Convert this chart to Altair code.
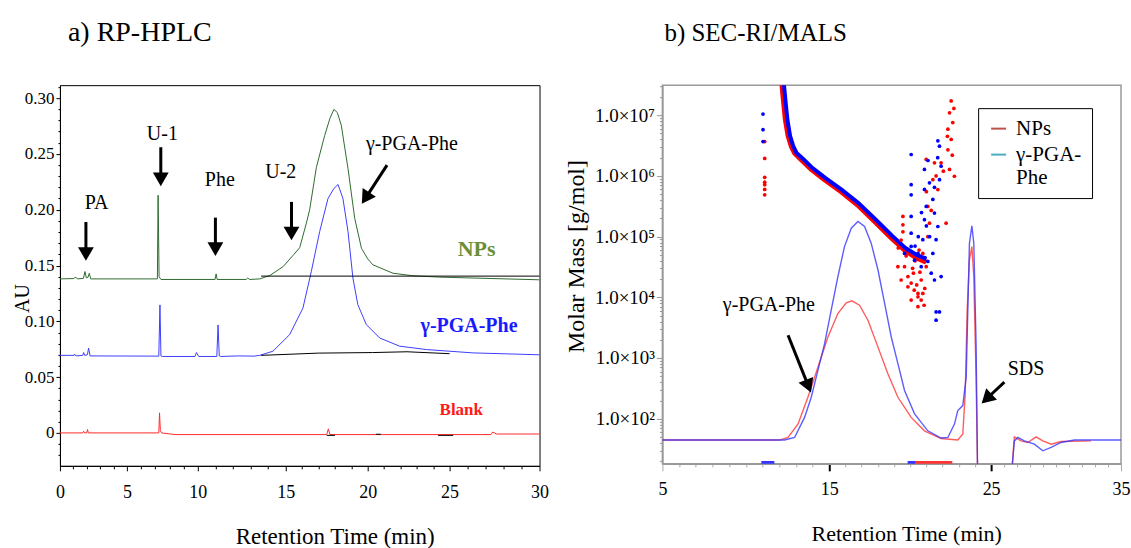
import altair as alt
import pandas as pd

SERIF = "Liberation Serif, Times New Roman, Times, serif"

# ---------------- a) RP-HPLC : chromatograms (min, AU) ----------------
nps_t = [0.0, 1.0, 1.19, 1.3, 1.75, 1.87, 1.97, 2.1, 2.19, 2.3,
         7.15, 7.2, 7.27, 7.4, 10.98, 11.04, 11.1, 12.75, 12.84, 12.95,
         13.52, 14.09, 14.85, 15.5, 15.85, 16.26, 16.46, 16.87, 17.38, 17.7,
         17.94, 18.15, 18.39, 18.8, 19.21, 19.62, 20.0, 20.32, 21.54, 22.76,
         24.39, 30.0]
nps_au = [0.138, 0.1383, 0.1395, 0.138, 0.1385, 0.1446, 0.139, 0.1395, 0.143, 0.138,
          0.138, 0.213, 0.140, 0.1375, 0.1375, 0.1425, 0.1375, 0.1375, 0.1388, 0.1375,
          0.138, 0.141, 0.149, 0.16, 0.166, 0.188, 0.2, 0.238, 0.2667, 0.282,
          0.2899, 0.287, 0.2756, 0.2369, 0.1922, 0.1655, 0.156, 0.1506, 0.1431, 0.1408,
          0.1396, 0.1372]

pga_t = [0.0, 1.06, 1.1, 1.2, 1.7, 1.77, 1.85, 2.05, 2.14, 2.25,
         7.25, 7.33, 7.4, 7.5, 9.8, 9.9, 10.05, 11.08, 11.15, 11.22,
         11.3, 12.3, 13.2, 13.52, 14.27, 15.24, 16.05, 16.56, 17.07, 17.58,
         17.94, 18.19, 18.49, 18.8, 19.1, 19.4, 19.92, 20.73, 21.95, 23.58,
         26.3, 30.0]
pga_au = [0.0695, 0.0695, 0.0705, 0.069, 0.0695, 0.072, 0.0695, 0.070, 0.076, 0.069,
          0.0688, 0.1147, 0.069, 0.0685, 0.0685, 0.072, 0.0685, 0.0685, 0.0967, 0.069,
          0.0685, 0.069, 0.0688, 0.0695, 0.0732, 0.0881, 0.1119, 0.1446, 0.1804, 0.2101,
          0.219, 0.2226, 0.2101, 0.1804, 0.1387, 0.1149, 0.097, 0.0851, 0.0777, 0.0747,
          0.0717, 0.0700]

blank_t = [0.0, 1.7, 1.77, 1.85, 2.0, 2.06, 2.12, 7.25, 7.3, 7.36,
           7.45, 8.4, 17.5, 17.6, 17.7, 27.3, 27.4, 27.6, 30.0]
blank_au = [0.0, 0.0, 0.0015, 0.0, 0.0, 0.003, 0.0, 0.0, 0.018, 0.002,
            0.0, -0.0015, -0.0015, 0.0036, -0.0015, -0.0015, 0.0008, -0.001, -0.001]

# integration baselines (black)
base_seg = ["a", "a", "b", "b", "b", "b", "b", "c", "c", "d", "d", "e", "e"]
base_t = [13.6, 30.0, 13.6, 17.0, 20.3, 22.4, 25.0, 17.5, 18.0, 20.5, 20.8, 24.3, 25.2]
base_au = [0.1405, 0.1405, 0.0695, 0.0715, 0.072, 0.0727, 0.071,
           -0.0022, -0.0022, -0.0012, -0.0012, -0.0022, -0.0022]

# peak annotations
ann_text = ["PA", "U-1", "Phe", "U-2", "γ-PGA-Phe"]
ann_t = [2.74, 7.5, 11.25, 14.72, 22.7]
ann_au = [0.2056, 0.268, 0.2265, 0.234, 0.259]

# arrows: tail -> head
arr_t1 = [1.94, 7.39, 11.0, 15.35, 21.18]
arr_au1 = [0.189, 0.256, 0.1929, 0.207, 0.240]
arr_t2 = [1.94, 7.39, 11.0, 15.35, 19.87]
arr_au2 = [0.1603, 0.2272, 0.1647, 0.1787, 0.2104]
arr_angle = [180, 180, 180, 180, 213]

# trace labels
lab_text = ["NPs", "γ-PGA-Phe", "Blank"]
lab_t = [26.5, 26.08, 25.65]
lab_au = [0.165, 0.0955, 0.0205]

# ---------------- b) SEC-RI/MALS (min, g/mol) ----------------
ri_np_t = [5.0, 12.02, 12.53, 13.13, 13.72, 14.32, 14.92, 15.53, 16.05, 16.4,
           16.87, 17.39, 18.01, 18.62, 19.24, 20.06, 20.88, 21.91, 22.94, 23.25,
           23.4, 23.52, 23.66, 23.81, 23.93, 24.07, 24.17, 26.54, 26.79, 27.3,
           27.82, 28.46, 28.98, 29.62, 30.38, 32.69]
ri_np_m = [44.4, 44.4, 49, 82, 225, 706, 2220, 5410, 8110, 8750,
           7430, 4200, 1510, 550, 225, 105, 63, 47, 44.4, 56,
           256, 6140, 41300, 68500, 21800, 483, 10, 10, 50, 43,
           40.5, 50, 43, 38, 42, 43]

ri_pga_t = [5.0, 12.32, 12.92, 13.52, 13.92, 14.32, 14.72, 15.12, 15.53, 15.94,
            16.36, 16.77, 17.18, 17.59, 18.01, 18.42, 18.83, 19.24, 19.65, 20.27,
            21.09, 21.91, 22.33, 22.74, 22.94, 23.25, 23.46, 23.56, 23.66, 23.81,
            23.93, 24.07, 24.17, 26.54, 26.79, 27.05, 27.56, 28.33, 28.98, 29.62,
            30.38, 31.41, 35.0]
ri_pga_m = [44.4, 44.4, 49, 105, 225, 624, 1727, 6140, 21800, 68500,
            138000, 178000, 147000, 78000, 28200, 7930, 2220, 805, 291, 120,
            63, 48, 49, 82, 136, 164, 483, 6140, 78000, 151000,
            78000, 1727, 10, 10, 43, 49, 43, 38, 29.5, 33.5,
            40.5, 44.4, 44.4]

# dense MALS band
band_np_t = [12.13, 12.25, 12.37, 12.53, 12.72, 12.92, 13.32, 13.92, 14.72, 15.74,
             16.77, 17.80, 18.83, 19.65, 20.37, 20.99]
band_np_m = [4.0e7, 1.8e7, 8.5e6, 4.6e6, 3.1e6, 2.4e6, 1.86e6, 1.29e6, 8.7e5, 5.5e5,
             3.3e5, 1.78e5, 9.5e4, 6.0e4, 4.5e4, 3.8e4]
band_pga_t = [12.25, 12.37, 12.49, 12.65, 12.84, 13.04, 13.44, 14.0, 14.78, 15.78,
              16.8, 17.83, 18.86, 19.68, 20.4, 21.0]
band_pga_m = [4.0e7, 1.8e7, 8.5e6, 4.6e6, 3.1e6, 2.4e6, 1.9e6, 1.35e6, 9.2e5, 5.9e5,
              3.6e5, 1.95e5, 1.05e5, 6.6e4, 5.0e4, 4.3e4]

# scattered MALS points
dot_np_t = [11.13, 11.13, 11.13, 11.13, 11.13, 11.13, 11.13,
            19.55, 19.55, 19.55, 19.44, 19.65, 19.86, 20.06, 20.25, 20.48, 20.68,
            20.86, 20.48, 20.06, 19.86, 19.44, 19.24, 20.78, 20.48, 20.68, 20.99,
            20.78, 21.09, 21.19, 21.09, 21.71, 21.40, 20.99, 21.50, 21.91, 22.22,
            22.33, 22.43, 22.73, 22.53, 22.33, 22.63, 22.43, 22.53, 19.26, 19.75,
            20.2, 20.4, 20.6, 20.9, 20.3, 20.55, 20.15, 21.3, 21.0, 22.05,
            22.6, 22.3, 22.7, 21.6]
dot_np_m = [3.7e6, 1.95e6, 9.5e5, 7.9e5, 7.2e5, 6.0e5, 4.9e5,
            2.15e5, 1.57e5, 1.2e5, 8.8e4, 3.2e4, 2.2e4, 1.72e4, 1.31e4, 1.02e4, 9.0e3,
            7.4e3, 7.0e3, 9.0e3, 1.49e4, 1.93e4, 3.2e4, 1.16e4, 1.16e4, 1.93e4, 3.2e4,
            5.3e4, 1.0e5, 1.67e5, 3.15e5, 5.96e5, 8.7e5, 1.87e6, 1.65e6, 1.65e6, 1.67e5,
            2.7e6, 1.28e6, 9.9e5, 4.0e6, 5.9e6, 7.6e6, 1.1e7, 1.73e7, 6.5e4, 4.8e4,
            2.5e4, 1.6e4, 2.6e4, 1.4e4, 4.0e4, 6.0e4, 3.0e4, 2.7e5, 5.5e5, 1.2e6,
            2.2e6, 4.5e6, 1.3e7, 1.0e6]
dot_pga_t = [11.03, 11.03, 11.03, 20.06, 20.06, 20.06, 20.06, 20.06, 20.06,
             20.27, 20.48, 20.78, 20.88, 20.99, 20.88, 20.88, 21.19, 21.40, 21.50,
             21.71, 21.71, 21.81, 21.91, 21.81, 21.60, 21.40, 21.09, 21.30, 21.50,
             21.91, 20.68, 19.86, 19.65, 21.60, 21.81, 21.60,
             20.5, 20.7, 21.0, 20.3, 21.2, 21.5, 21.1, 21.7, 20.9]
dot_pga_m = [1.05e7, 5.8e6, 3.7e6, 2.26e6, 7.2e5, 4.9e5, 2.15e5, 1.14e5, 6.9e4,
             4.1e4, 5.3e4, 8.9e4, 1.9e5, 3.15e5, 6.0e5, 1.28e6, 7.7e5, 4.1e5, 2.45e5,
             1.47e5, 3.8e6, 3.1e6, 1.45e6, 8.7e5, 8.9e4, 5.3e4, 3.9e4, 2.5e4, 1.93e4,
             2.2e4, 3.2e4, 6.0e4, 5.3e4, 5.75e3, 5.75e3, 4.2e3,
             1.0e5, 2.5e5, 1.5e5, 7.0e4, 1.0e5, 6.5e5, 1.8e6, 2.0e6, 4.5e4]

# points lying on the lower edge
edge_seg = ["b1", "b1", "r1", "r1", "b2", "b2"]
edge_series = ["γ-PGA-Phe", "γ-PGA-Phe", "NPs", "NPs", "γ-PGA-Phe", "γ-PGA-Phe"]
edge_t = [10.93, 11.71, 20.2, 22.6, 19.84, 20.3]
edge_m = [19, 19, 19, 19, 19, 19]

r_ann_text = ["γ-PGA-Phe", "SDS"]
r_ann_t = [11.38, 27.69]
r_ann_m = [7430, 665]
r_arr_t1 = [12.53, 26.02]
r_arr_m1 = [2366, 399]
r_arr_t2 = [13.75, 24.72]
r_arr_m2 = [343, 213]
r_arr_angle = [158, 227]

SERIES = ["NPs", "γ-PGA-Phe"]

# ============ left panel ============
blank_df = pd.DataFrame({"t": blank_t, "au": blank_au})
pga_df = pd.DataFrame({"t": pga_t, "au": pga_au})
nps_df = pd.DataFrame({"t": nps_t, "au": nps_au})
base_df = pd.DataFrame({"t": base_t, "au": base_au, "seg": base_seg})
ann_df = pd.DataFrame({"t": ann_t, "au": ann_au, "label": ann_text})
arr_df = pd.DataFrame({"t": arr_t1, "au": arr_au1, "t2": arr_t2, "au2": arr_au2})
head_df = pd.DataFrame({"t": arr_t2, "au": arr_au2, "angle": arr_angle})
lab_df = pd.DataFrame({"t": lab_t, "au": lab_au, "label": lab_text})

lx_scale = alt.Scale(domain=[0, 5, 10, 15, 20, 25, 30],
                     range=[0, 67, 138, 226, 308, 390, 480], zero=False, nice=False)
ly_scale = alt.Scale(domain=[-0.0295, 0.3116], zero=False, nice=False)

lx_axis = alt.Axis(
    values=list(range(31)),
    labelExpr="datum.value % 5 == 0 ? datum.label : ''",
    tickSize={"condition": {"test": "datum.value % 5 == 0", "value": 5}, "value": 3},
    tickColor="black", domainColor="black", labelFontSize=18, labelPadding=13,
    labelFlush=False, labelOverlap=False, labelBound=False,
    title="Retention Time (min)", titleFontSize=23, titleX=275, titleY=71,
    titleAlign="center", titleBaseline="middle",
)
ly_vals = [round(-0.02 + 0.01 * i, 2) for i in range(34)]
ly_axis = alt.Axis(
    values=ly_vals,
    labelExpr="abs(datum.value*20 - round(datum.value*20)) < 0.0001 ? (abs(datum.value) < 0.0001 ? '0' : format(datum.value, '.2f')) : ''",
    tickSize={"condition": {"test": "abs(datum.value*20 - round(datum.value*20)) < 0.0001", "value": 4}, "value": 2},
    tickColor="black", domainColor="black", labelFontSize=17, labelPadding=2,
    labelOverlap=False, labelBound=False,
    title="AU", titleFontSize=20, titleX=-37, titleY=213, titleAngle=270,
    titleAlign="center", titleBaseline="middle",
)
LX = alt.X("t:Q", scale=lx_scale, axis=lx_axis)
LY = alt.Y("au:Q", scale=ly_scale, axis=ly_axis)

blank_line = alt.Chart(blank_df).mark_line(strokeWidth=1, color="#ff2a2a", clip=True).encode(x=LX, y=LY)
pga_line = alt.Chart(pga_df).mark_line(strokeWidth=1, color="#3d3dff", clip=True).encode(x=LX, y=LY)
nps_line = alt.Chart(nps_df).mark_line(strokeWidth=1, color="#2f6b2f", clip=True).encode(x=LX, y=LY)
baselines = alt.Chart(base_df).mark_line(strokeWidth=1, color="black").encode(
    x=LX, y=LY, detail="seg:N")
arrows = alt.Chart(arr_df).mark_rule(strokeWidth=3, color="black").encode(
    x=LX, y=LY, x2="t2:Q", y2="au2:Q")
heads = alt.Chart(head_df).mark_point(shape="triangle-up", size=250, filled=True,
                                      color="black", opacity=1).encode(
    x=LX, y=LY, angle=alt.Angle("angle:Q", scale=None))
ann = alt.Chart(ann_df).mark_text(font=SERIF, fontSize=20, color="black").encode(
    x=LX, y=LY, text="label:N")
lab_styles = [("NPs", "#6b8e3a", 22), ("γ-PGA-Phe", "#1a1aff", 20), ("Blank", "#ff1a1a", 17)]
lab_layers = [
    alt.Chart(lab_df[lab_df.label == name]).mark_text(
        font=SERIF, fontSize=fs, fontWeight="bold", color=col).encode(x=LX, y=LY, text="label:N")
    for name, col, fs in lab_styles
]

left = alt.layer(blank_line, pga_line, nps_line, baselines, arrows, heads, ann,
                 *lab_layers).properties(
    width=480, height=381,
    title=alt.TitleParams("a) RP-HPLC", anchor="start", frame="group", font=SERIF,
                          fontSize=28, fontWeight="normal", dx=8, offset=31, color="black"),
    view=alt.ViewBackground(stroke="black", strokeWidth=1),
)

# ============ right panel ============
ri_np_df = pd.DataFrame({"t": ri_np_t, "m": ri_np_m})
ri_pga_df = pd.DataFrame({"t": ri_pga_t, "m": ri_pga_m})
band_np_df = pd.DataFrame({"t": band_np_t, "m": band_np_m})
band_pga_df = pd.DataFrame({"t": band_pga_t, "m": band_pga_m})
dot_np_df = pd.DataFrame({"t": dot_np_t, "m": dot_np_m, "series": "NPs"})
dot_pga_df = pd.DataFrame({"t": dot_pga_t, "m": dot_pga_m, "series": "γ-PGA-Phe"})
edge_df = pd.DataFrame({"t": edge_t, "m": edge_m, "seg": edge_seg, "series": edge_series})
r_ann_df = pd.DataFrame({"t": r_ann_t, "m": r_ann_m, "label": r_ann_text})
r_arr_df = pd.DataFrame({"t": r_arr_t1, "m": r_arr_m1, "t2": r_arr_t2, "m2": r_arr_m2})
r_head_df = pd.DataFrame({"t": r_arr_t2, "m": r_arr_m2, "angle": r_arr_angle})

rx_scale = alt.Scale(domain=[5, 15, 25, 35], range=[0, 167, 329, 459], zero=False, nice=False)
ry_scale = alt.Scale(type="log", domain=[18, 3.14e7], nice=False)

MAJ_X = "(datum.value - 5) % 10 == 0"
rx_axis = alt.Axis(
    values=list(range(5, 36)),
    labelExpr="(datum.value - 5) % 10 == 0 ? datum.label : ''",
    tickSize={"condition": {"test": MAJ_X, "value": 7}, "value": 3},
    tickColor={"condition": {"test": "datum.value == 15 || datum.value == 25", "value": "black"},
               "value": "#aaaaaa"},
    tickWidth={"condition": {"test": "datum.value == 15 || datum.value == 25", "value": 2},
               "value": 1},
    domainColor="#999999", domainWidth=1.5, labelFontSize=18, labelPadding=10,
    labelFlush=False, labelOverlap=False, labelBound=False,
    title="Retention Time (min)", titleFontSize=22, titleX=244, titleY=70,
    titleAlign="center", titleBaseline="middle",
)
ry_vals = [k * 10 ** d for d in range(1, 8) for k in range(1, 10) if 18 <= k * 10 ** d <= 3.14e7]
DEC = "abs(log(datum.value)/LN10 - round(log(datum.value)/LN10)) < 0.001"
ry_axis = alt.Axis(
    values=ry_vals,
    labelExpr=DEC + " ? '1.0×10' + ['⁰','¹','²','³','⁴','⁵','⁶','⁷','⁸'][round(log(datum.value)/LN10)] : ''",
    tickSize={"condition": {"test": DEC, "value": 6}, "value": 3},
    tickColor="#999999", domainColor="#999999", domainWidth=1.5,
    labelFontSize=19, labelPadding=2, labelOverlap=False, labelBound=False,
    title="Molar Mass [g/mol]", titleFontSize=24, titleX=-86, titleY=171, titleAngle=270,
    titleAlign="center", titleBaseline="middle",
)
RX = alt.X("t:Q", scale=rx_scale, axis=rx_axis)
RY = alt.Y("m:Q", scale=ry_scale, axis=ry_axis)

ri_np = alt.Chart(ri_np_df).mark_line(strokeWidth=1.4, clip=True, opacity=0.8,
                                      color="#ff3535").encode(x=RX, y=RY)
ri_pga = alt.Chart(ri_pga_df).mark_line(strokeWidth=1.4, clip=True, opacity=0.8,
                                        color="#3535ff").encode(x=RX, y=RY)
edge_np = alt.Chart(edge_df[edge_df.series == "NPs"]).mark_line(
    strokeWidth=3, clip=True, color="#ff3535").encode(x=RX, y=RY, detail="seg:N")
edge_pga = alt.Chart(edge_df[edge_df.series == "γ-PGA-Phe"]).mark_line(
    strokeWidth=3, clip=True, color="#3535ff").encode(x=RX, y=RY, detail="seg:N")
band_np = alt.Chart(band_np_df).mark_line(
    strokeWidth=5, color="#ff0000", clip=True).encode(x=RX, y=RY)
band_pga = alt.Chart(band_pga_df).mark_line(
    strokeWidth=4, color="#0000ff", clip=True).encode(x=RX, y=RY)

legend_stroke = alt.Stroke(
    "series:N",
    scale=alt.Scale(domain=SERIES, range=["#c0504d", "#4bacc6"]),
    legend=alt.Legend(
        title=None, orient="none", legendX=919, legendY=23,
        direction="vertical", symbolType="stroke", symbolSize=225,
        symbolStrokeWidth=2, symbolOpacity=1,
        labelFont=SERIF, labelFontSize=21, labelColor="black",
        labelExpr="datum.label == 'γ-PGA-Phe' ? ['γ-PGA-', 'Phe'] : datum.label",
        labelOffset=7, labelLimit=300, rowPadding=4, padding=10,
        strokeColor="black", fillColor="white"),
)
dots_np = alt.Chart(dot_np_df).mark_circle(size=14, opacity=1, strokeWidth=0, clip=True,
                                           fill="#ff0000").encode(x=RX, y=RY, stroke=legend_stroke)
dots_pga = alt.Chart(dot_pga_df).mark_circle(size=14, opacity=1, strokeWidth=0, clip=True,
                                             fill="#0000ff").encode(x=RX, y=RY, stroke=legend_stroke)
r_arrows = alt.Chart(r_arr_df).mark_rule(strokeWidth=3, color="black").encode(
    x=RX, y=RY, x2="t2:Q", y2="m2:Q")
r_heads = alt.Chart(r_head_df).mark_point(shape="triangle-up", size=250, filled=True,
                                          color="black", opacity=1).encode(
    x=RX, y=RY, angle=alt.Angle("angle:Q", scale=None))
r_ann = alt.Chart(r_ann_df).mark_text(font=SERIF, fontSize=20, color="black").encode(
    x=RX, y=RY, text="label:N")

right = alt.layer(ri_np, ri_pga, edge_np, edge_pga, band_np, band_pga, dots_np, dots_pga,
                  r_arrows, r_heads, r_ann).properties(
    width=459, height=379,
    title=alt.TitleParams("b) SEC-RI/MALS", anchor="start", frame="group", font=SERIF,
                          fontSize=25, fontWeight="normal", dx=2, offset=31, color="black"),
    view=alt.ViewBackground(stroke="#999999", strokeWidth=1.5),
)

chart = alt.hconcat(left, right, spacing=14).properties(
    padding={"left": 12, "top": 18, "right": 0, "bottom": 4},
    background="white",
).configure(font=SERIF).configure_axis(
    grid=False, labelFont=SERIF, titleFont=SERIF, titleFontWeight="normal",
    labelColor="black", titleColor="black",
).configure_legend(labelFont=SERIF)

chart.save("out.html", embed_options={"renderer": "svg", "actions": False})
